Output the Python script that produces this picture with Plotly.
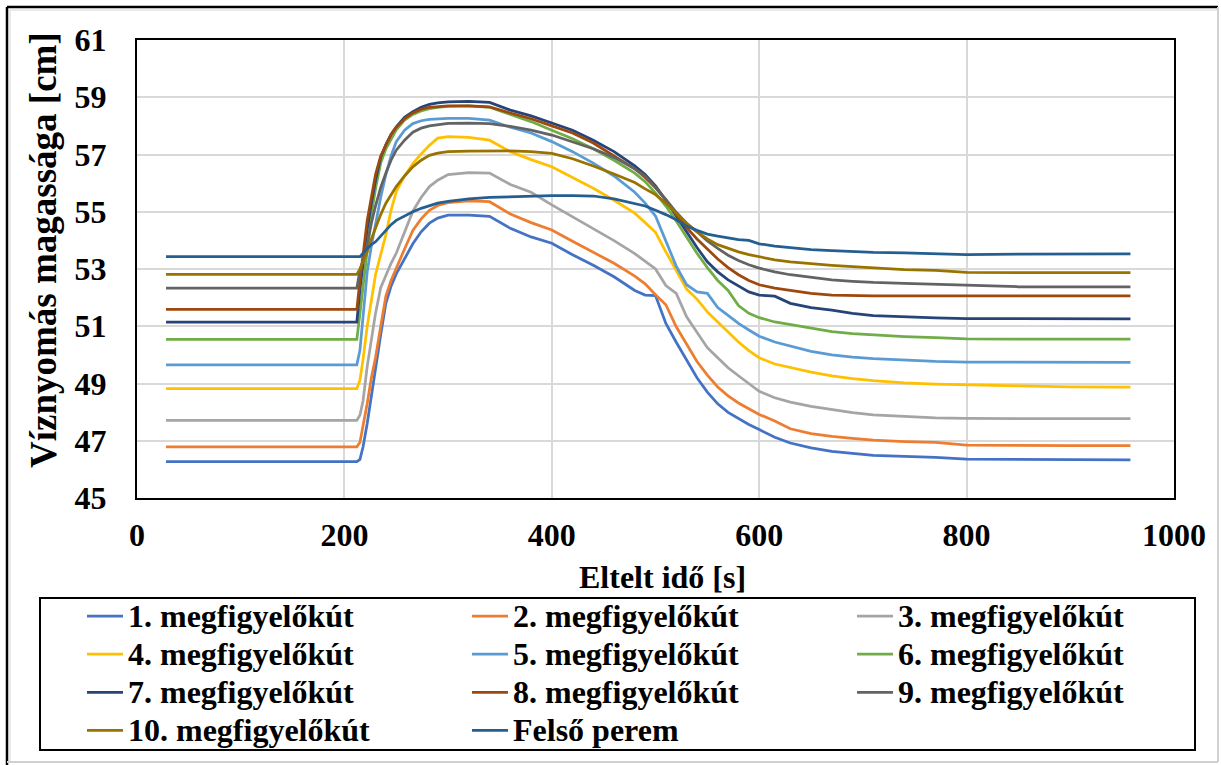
import plotly.graph_objects as go

# Elapsed time [s] shared by all measured series
T = [28, 212, 215, 218, 222, 226, 230, 235, 240, 245, 250, 258, 266, 274, 282, 290,
     300, 320, 340, 360, 380, 400, 420, 440, 460, 480, 490, 500, 510, 520, 530, 540,
     550, 560, 570, 580, 590, 600, 615, 630, 650, 670, 690, 710, 740, 770, 800, 850,
     900, 958]

# Piezometric head [cm] in each observation well
w1 = [46.27, 46.27, 46.35, 46.79, 47.6, 48.6, 49.5, 50.7, 51.8, 52.4, 52.83, 53.35, 53.88,
      54.3, 54.6, 54.78, 54.88, 54.88, 54.84, 54.42, 54.12, 53.9, 53.5, 53.13, 52.73, 52.25,
      52.09, 52.07, 51.1, 50.44, 49.8, 49.2, 48.7, 48.29, 47.99, 47.77, 47.57, 47.39, 47.12,
      46.92, 46.75, 46.63, 46.55, 46.49, 46.45, 46.42, 46.36, 46.35, 46.35, 46.33]
w2 = [46.79, 46.79, 46.95, 47.49, 48.3, 49.2, 49.9, 51.0, 52.05, 52.6, 53.05, 53.7, 54.35,
      54.75, 55.05, 55.22, 55.32, 55.38, 55.35, 54.92, 54.62, 54.36, 53.97, 53.6, 53.2, 52.75,
      52.48, 52.1, 51.75, 50.98, 50.35, 49.77, 49.29, 48.88, 48.57, 48.32, 48.12, 47.92, 47.69,
      47.42, 47.25, 47.15, 47.08, 47.02, 46.97, 46.94, 46.85, 46.83, 46.83, 46.83]
w3 = [47.71, 47.71, 47.9, 48.4, 49.6, 50.6, 51.45, 52.35, 52.8, 53.2, 53.55, 54.3, 55.02,
      55.5, 55.88, 56.1, 56.3, 56.37, 56.35, 55.95, 55.68, 55.24, 54.83, 54.42, 53.99, 53.54,
      53.28, 53.0, 52.42, 52.15, 51.33, 50.78, 50.25, 49.9, 49.55, 49.27, 48.99, 48.73, 48.5,
      48.35, 48.2, 48.08, 47.98, 47.9, 47.84, 47.8, 47.78, 47.77, 47.77, 47.77]
w4 = [48.82, 48.82, 49.12, 49.85, 51.0, 51.9, 52.8, 53.5, 54.2, 55.05, 55.7, 56.25, 56.68,
      57.02, 57.32, 57.57, 57.62, 57.6, 57.5, 57.1, 56.82, 56.57, 56.2, 55.82, 55.4, 54.95,
      54.62, 54.28, 53.6, 52.95, 52.3, 51.95, 51.5, 51.15, 50.8, 50.45, 50.15, 49.9, 49.68,
      49.55, 49.4, 49.27, 49.17, 49.1, 49.02, 48.98, 48.95, 48.92, 48.88, 48.87]
w5 = [49.65, 49.65, 50.17, 51.4, 52.9, 53.8, 54.6, 55.5, 56.3, 56.95, 57.45, 57.85, 58.08,
      58.18, 58.23, 58.25, 58.26, 58.26, 58.2, 57.95, 57.75, 57.45, 57.1, 56.7, 56.25, 55.68,
      55.3, 54.85, 53.95, 53.1, 52.45, 52.2, 52.15, 51.65, 51.38, 51.1, 50.87, 50.65, 50.45,
      50.3, 50.12, 50.0, 49.92, 49.87, 49.82, 49.77, 49.75, 49.75, 49.74, 49.74]
w6 = [50.54, 50.54, 51.45, 52.4, 53.8, 54.9, 55.8, 56.7, 57.2, 57.55, 57.86, 58.2, 58.4,
      58.52, 58.6, 58.65, 58.68, 58.7, 58.65, 58.4, 58.15, 57.85, 57.55, 57.2, 56.8, 56.35,
      56.05, 55.65, 55.2, 54.68, 54.1, 53.55, 53.05, 52.6, 52.25, 51.72, 51.45, 51.3, 51.15,
      51.05, 50.92, 50.81, 50.74, 50.69, 50.64, 50.6, 50.56, 50.55, 50.55, 50.55]
w7 = [51.14, 51.14, 52.3, 53.3, 54.4, 55.3, 56.1, 56.9, 57.35, 57.7, 57.97, 58.3, 58.5,
      58.65, 58.75, 58.8, 58.84, 58.86, 58.82, 58.55, 58.35, 58.1, 57.85, 57.5, 57.1, 56.6,
      56.3, 55.9, 55.4, 54.85, 54.3, 53.75, 53.25, 52.9, 52.62, 52.4, 52.2, 52.09, 52.05,
      51.8, 51.65, 51.56, 51.45, 51.37, 51.32, 51.29, 51.27, 51.27, 51.27, 51.26]
w8 = [51.59, 51.59, 52.6, 53.5, 54.7, 55.5, 56.3, 56.95, 57.35, 57.7, 57.95, 58.25, 58.45,
      58.58, 58.65, 58.68, 58.7, 58.7, 58.66, 58.45, 58.25, 58.0, 57.75, 57.4, 56.95, 56.5,
      56.2, 55.85, 55.4, 54.9, 54.45, 54.05, 53.7, 53.35, 53.05, 52.8, 52.6, 52.45, 52.33,
      52.25, 52.15, 52.09, 52.07, 52.06, 52.06, 52.06, 52.06, 52.06, 52.06, 52.06]
w9 = [52.33, 52.33, 52.97, 53.3, 53.85, 54.6, 55.2, 55.85, 56.35, 56.8, 57.15, 57.5, 57.78,
      57.92, 58.0, 58.05, 58.09, 58.1, 58.08, 57.98, 57.85, 57.68, 57.45, 57.2, 56.9, 56.5,
      56.25, 55.85, 55.43, 54.98, 54.6, 54.3, 53.98, 53.72, 53.48, 53.3, 53.15, 53.03, 52.9,
      52.8, 52.7, 52.62, 52.57, 52.53, 52.5, 52.47, 52.44, 52.38, 52.38, 52.38]
w10 = [52.81, 52.81, 53.0, 53.25, 53.6, 54.05, 54.45, 54.9, 55.3, 55.6, 55.88, 56.25, 56.57,
       56.8, 56.97, 57.05, 57.1, 57.12, 57.12, 57.13, 57.1, 57.04, 56.85, 56.6, 56.32, 56.02,
       55.8, 55.6, 55.3, 54.95, 54.6, 54.3, 54.05, 53.85, 53.72, 53.6, 53.5, 53.42, 53.32,
       53.25, 53.18, 53.13, 53.08, 53.03, 52.98, 52.95, 52.88, 52.87, 52.87, 52.87]
# Upper rim level
felso = [53.43, 53.43, 53.43, 53.55, 53.72, 53.85, 53.95, 54.15, 54.35, 54.55, 54.7, 54.85,
         55.0, 55.12, 55.22, 55.3, 55.36, 55.45, 55.5, 55.52, 55.55, 55.56, 55.56, 55.55,
         55.45, 55.3, 55.2, 55.05, 54.9, 54.72, 54.5, 54.35, 54.22, 54.15, 54.08, 54.03, 54.0,
         53.88, 53.8, 53.74, 53.68, 53.64, 53.6, 53.58, 53.56, 53.52, 53.5, 53.52, 53.52, 53.53]

names = ["1. megfigyelőkút", "2. megfigyelőkút", "3. megfigyelőkút", "4. megfigyelőkút",
         "5. megfigyelőkút", "6. megfigyelőkút", "7. megfigyelőkút", "8. megfigyelőkút",
         "9. megfigyelőkút", "10. megfigyelőkút", "Felső perem"]
series = [w1, w2, w3, w4, w5, w6, w7, w8, w9, w10, felso]
colors = ["#4472C4", "#ED7D31", "#A5A5A5", "#FFC000", "#5B9BD5", "#70AD47",
          "#264478", "#9E480E", "#636363", "#997300", "#255E91"]

x_ticks = [0, 200, 400, 600, 800, 1000]
y_ticks = [45, 47, 49, 51, 53, 55, 57, 59, 61]

# Canvas and plot-area geometry (pixels)
W, H = 1221, 765
ML, MR, MT, MB = 137, 47, 40, 267
PW = W - ML - MR
PH = H - MT - MB


def px_x(px):
    return (px - ML) / PW


def px_y(py):
    return (H - MB - py) / PH


FONT = "Liberation Serif"
LEG_TXT = 32

fig = go.Figure()
for name, ys, col in zip(names, series, colors):
    fig.add_trace(go.Scatter(
        x=T, y=ys, mode="lines",
        name=f'<span style="font-size:{LEG_TXT}px">{name}</span>',
        line=dict(color=col, width=2.75),
    ))

axis_common = dict(
    showgrid=True, gridcolor="#d9d9d9", gridwidth=2,
    showline=True, linecolor="black", linewidth=2, mirror=True,
    zeroline=False, ticks="",
    tickfont=dict(family=FONT, size=32, color="black", weight="bold"),
)

fig.update_layout(
    width=W, height=H,
    margin=dict(l=ML, r=MR, t=MT, b=MB, autoexpand=False),
    paper_bgcolor="white", plot_bgcolor="white",
    font=dict(family=FONT, size=32, color="black", weight="bold"),
    xaxis=dict(range=[0, 1000], tickvals=x_ticks, ticklabelstandoff=8, **axis_common),
    yaxis=dict(range=[45, 61], tickvals=y_ticks, ticklabelstandoff=22, **axis_common),
    showlegend=True,
    legend=dict(
        orientation="h", traceorder="normal",
        x=px_x(82), xanchor="left", y=px_y(592), yanchor="top",
        entrywidth=334, entrywidthmode="pixels", itemwidth=36,
        font=dict(family=FONT, size=27, color="black", weight="bold"),
        bgcolor="rgba(0,0,0,0)", borderwidth=0,
    ),
    annotations=[
        dict(text="Eltelt idő [s]", x=px_x(662), y=px_y(577), xref="paper", yref="paper",
             xanchor="center", yanchor="middle", showarrow=False,
             font=dict(family=FONT, size=32, color="black", weight="bold")),
        dict(text="Víznyomás magassága [cm]", x=px_x(44), y=px_y(250), xref="paper",
             yref="paper", xanchor="center", yanchor="middle", textangle=-90,
             showarrow=False,
             font=dict(family=FONT, size=37, color="black", weight="bold")),
    ],
    shapes=[
        # legend frame
        dict(type="rect", xref="paper", yref="paper",
             x0=px_x(40), x1=px_x(1195), y0=px_y(598), y1=px_y(750),
             line=dict(color="black", width=2)),
        # outer chart frame
        dict(type="line", xref="paper", yref="paper",
             x0=px_x(7), x1=px_x(7), y0=px_y(7), y1=px_y(765),
             line=dict(color="black", width=2.5)),
        dict(type="line", xref="paper", yref="paper",
             x0=px_x(7), x1=px_x(1218), y0=px_y(7), y1=px_y(7),
             line=dict(color="black", width=2.5)),
        dict(type="line", xref="paper", yref="paper",
             x0=px_x(10), x1=px_x(10), y0=px_y(10), y1=px_y(762),
             line=dict(color="#e3e3e3", width=1.5)),
        dict(type="line", xref="paper", yref="paper",
             x0=px_x(10), x1=px_x(1218), y0=px_y(10), y1=px_y(10),
             line=dict(color="#e3e3e3", width=1.5)),
        dict(type="line", xref="paper", yref="paper",
             x0=px_x(1218), x1=px_x(1218), y0=px_y(7), y1=px_y(762),
             line=dict(color="#d0d0d0", width=2)),
        dict(type="line", xref="paper", yref="paper",
             x0=px_x(7), x1=px_x(1218), y0=px_y(762), y1=px_y(762),
             line=dict(color="#d0d0d0", width=2)),
    ],
)

fig.write_html("out.html")
